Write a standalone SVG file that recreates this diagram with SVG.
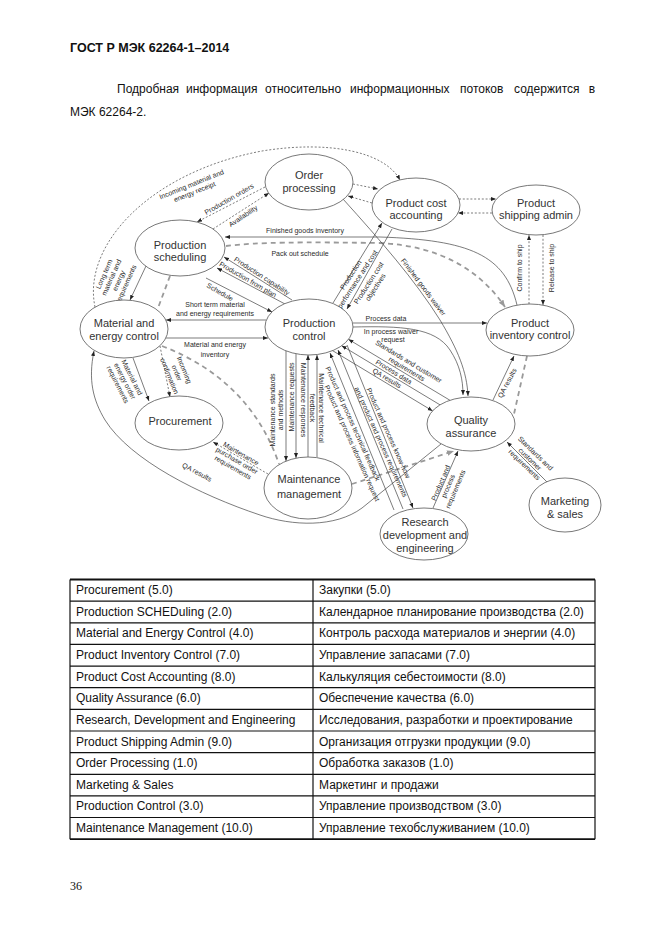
<svg xmlns="http://www.w3.org/2000/svg" width="662" height="935" viewBox="0 0 662 935">
<defs>
<style>
.hd{font-family:"Liberation Sans",Arial,sans-serif;font-size:12.5px;font-weight:bold;fill:#111}
.pt{font-family:"Liberation Sans",Arial,sans-serif;font-size:12px;fill:#111}
.tt{font-family:"Liberation Sans",Arial,sans-serif;font-size:12px;fill:#111}
.pn{font-family:"Liberation Serif","Times New Roman",serif;font-size:12px;fill:#111}
.n ellipse{fill:#fff;stroke:#555;stroke-width:0.8}
.n text{font-family:"Liberation Sans",Arial,sans-serif;font-size:11px;fill:#333;text-anchor:middle}
.lb{font-family:"Liberation Sans",Arial,sans-serif;font-size:7px;fill:#2a2a2a;text-anchor:middle}
.s{fill:none;stroke:#444;stroke-width:0.7}
.d{fill:none;stroke:#444;stroke-width:0.7;stroke-dasharray:2 1.8}
.g{fill:none;stroke:#9a9a9a;stroke-width:1.8;stroke-dasharray:5 4}
.tl{stroke:#111;stroke-width:1.2}
.tb{stroke:#111;stroke-width:1.8}
</style>
<marker id="a" viewBox="0 0 10 10" refX="10" refY="5" markerWidth="5" markerHeight="5" markerUnits="userSpaceOnUse" orient="auto"><path d="M0,1 L10,5 L0,9 z" fill="#222"/></marker>
<marker id="ag" viewBox="0 0 10 10" refX="10" refY="5" markerWidth="7" markerHeight="7" markerUnits="userSpaceOnUse" orient="auto"><path d="M0,1 L10,5 L0,9 z" fill="#999"/></marker>
</defs>
<rect width="662" height="935" fill="#fff"/>

<g id="page-text">
<text class="hd" x="70" y="51.5">ГОСТ Р МЭК 62264-1–2014</text>
<text class="pt" x="117" y="92.5">Подробная</text>
<text class="pt" x="186" y="92.5">информация</text>
<text class="pt" x="265" y="92.5">относительно</text>
<text class="pt" x="350" y="92.5">информационных</text>
<text class="pt" x="460" y="92.5">потоков</text>
<text class="pt" x="514" y="92.5">содержится</text>
<text class="pt" x="595" y="92.5" text-anchor="end">в</text>
<text class="pt" x="70" y="115.5">МЭК 62264-2.</text>
<text class="pn" x="70" y="890">36</text>
</g>

<g id="connectors">
<!-- dashed thin flows -->
<path class="d" d="M95 307 C82 245,150 172,262 151 C330 140,385 152,400 180" marker-end="url(#a)"/>
<path class="d" d="M353 184 L378 189" marker-end="url(#a)"/>
<path class="d" d="M372 203 L348 196" marker-end="url(#a)"/>
<path class="d" d="M459 199 L496 199" marker-end="url(#a)"/>
<path class="d" d="M492 213 L458 213" marker-end="url(#a)"/>
<path class="d" d="M529 304 L529 235" marker-end="url(#a)"/>
<path class="d" d="M543 235 L543 305" marker-end="url(#a)"/>
<path class="d" d="M265 187 L197 222" marker-end="url(#a)"/>
<path class="d" d="M213 229 L269 193" marker-end="url(#a)"/>
<path class="d" d="M160 346 L170 397" marker-end="url(#a)"/>
<path class="d" d="M268 474 L213 442" marker-end="url(#a)"/>

<!-- grey thick dashed flows -->
<path class="g" d="M226 246 C260 242,300 242,380 243 C440 246,480 270,505 307" marker-end="url(#ag)"/>
<path class="g" d="M170 276 L158 308"/>
<path class="g" d="M162 346 Q250 380 279 464"/>
<path class="g" d="M527 356 L514 414"/>
<path class="g" d="M352 484 C380 475,420 462,454 451" marker-end="url(#ag)"/>

<!-- solid flows -->
<path class="s" d="M517 305 C505 255,470 240,380 237 L225 237" marker-end="url(#a)"/>
<path class="s" d="M292 300 L224 257" marker-end="url(#a)"/>
<path class="s" d="M285 304 L217 268" marker-end="url(#a)"/>
<path class="s" d="M206 278 L272 312" marker-end="url(#a)"/>
<path class="s" d="M266 320 L166 320" marker-end="url(#a)"/>
<path class="s" d="M166 338 L268 338" marker-end="url(#a)"/>
<path class="s" d="M146 266 L130 300" marker-end="url(#a)"/>
<path class="s" d="M133 358 L149 401" marker-end="url(#a)"/>
<path class="s" d="M441 444 L362 508 C335 528,292 526,260 515 C200 495,130 460,105 420 C93 400,88 380,94 351" marker-end="url(#a)"/>
<path class="s" d="M286 351 L286 461" marker-end="url(#a)"/>
<path class="s" d="M296 354 L296 458" marker-end="url(#a)"/>
<path class="s" d="M308 457 L308 355" marker-end="url(#a)"/>
<path class="s" d="M317 457 L317 355" marker-end="url(#a)"/>
<path class="s" d="M394 510 L330 353" marker-end="url(#a)"/>
<path class="s" d="M403 509 L338 350" marker-end="url(#a)"/>
<path class="s" d="M347 345 L413 508" marker-end="url(#a)"/>
<path class="s" d="M353 323 L487 323" marker-end="url(#a)"/>
<path class="s" d="M353 327 C400 326,435 327,450 350 C460 365,463 380,463 395" marker-end="url(#a)"/>
<path class="s" d="M343 199 C380 240,415 280,440 320 C458 350,467 372,468 396" marker-end="url(#a)"/>
<path class="s" d="M450 400.3 L348.4 339.3" marker-end="url(#a)"/>
<path class="s" d="M440.1 404.9 L341.7 345.7" marker-end="url(#a)"/>
<path class="s" d="M332.5 350.6 L432.6 410.9" marker-end="url(#a)"/>
<path class="s" d="M493 400 L514 356" marker-end="url(#a)"/>
<path class="s" d="M547 482 L507 442" marker-end="url(#a)"/>
<path class="s" d="M433 508 L458 451" marker-end="url(#a)"/>
<path class="s" d="M333 303 L382 223" marker-end="url(#a)"/>
<path class="s" d="M392 229 L347 309" marker-end="url(#a)"/>

<!-- connector labels -->
<text class="lb" transform="translate(193,188) rotate(-22)"><tspan x="0" y="-1.5">Incoming material and</tspan><tspan x="0" y="6.5">energy receipt</tspan></text>
<text class="lb" transform="translate(229,199) rotate(-30)" y="2.5">Production orders</text>
<text class="lb" transform="translate(243,216) rotate(-34)" y="2.5">Availability</text>
<text class="lb" x="305" y="233">Finished goods inventory</text>
<text class="lb" x="300" y="255.5">Pack out schedule</text>
<text class="lb" transform="translate(115,279) rotate(-66)"><tspan x="0" y="-9.5">Long term</tspan><tspan x="0" y="-1.5">material and</tspan><tspan x="0" y="6.5">energy</tspan><tspan x="0" y="14.5">requirements</tspan></text>
<text class="lb" transform="translate(262,276) rotate(33)" y="2.5">Production capability</text>
<text class="lb" transform="translate(248,279.5) rotate(30)" y="2.5">Production from plan</text>
<text class="lb" transform="translate(220,292) rotate(30)" y="2.5">Schedule</text>
<text class="lb" x="215" y="306.5">Short term material</text>
<text class="lb" x="215" y="316">and energy requirements</text>
<text class="lb" x="215" y="346.5">Material and energy</text>
<text class="lb" x="215" y="356.5">inventory</text>
<text class="lb" transform="translate(125,381) rotate(63)"><tspan x="0" y="-5.5">Material and</tspan><tspan x="0" y="2.5">energy order</tspan><tspan x="0" y="10.5">requirements</tspan></text>
<text class="lb" transform="translate(177,373) rotate(68)"><tspan x="0" y="-5.5">Incoming</tspan><tspan x="0" y="2.5">order</tspan><tspan x="0" y="10.5">confirmation</tspan></text>
<text class="lb" transform="translate(237,460.5) rotate(30)"><tspan x="0" y="-5.5">Maintenance</tspan><tspan x="0" y="2.5">purchase order</tspan><tspan x="0" y="10.5">requirements</tspan></text>
<text class="lb" transform="translate(197,472) rotate(28)" y="2.5">QA results</text>
<text class="lb" transform="translate(276,410) rotate(-90)"><tspan x="0" y="-1.5">Maintenance standards</tspan><tspan x="0" y="6.5">and methods</tspan></text>
<text class="lb" transform="translate(291,397) rotate(-90)" y="2.5">Maintenance requests</text>
<text class="lb" transform="translate(303,400) rotate(90)" y="2.5">Maintenance responses</text>
<text class="lb" transform="translate(317,408) rotate(90)"><tspan x="0" y="-2">Maintenance technical</tspan><tspan x="0" y="7">feedback</tspan></text>
<text class="lb" transform="translate(352.9,423.8) rotate(66)" y="2.5">Product and process technical feedback</text>
<text class="lb" transform="translate(352.1,443.1) rotate(66)" y="2.5">Product and process information request</text>
<text class="lb" transform="translate(388.5,432.9) rotate(66)" y="2.5">Product and process know-how</text>
<text class="lb" transform="translate(381,442) rotate(66)" y="2.5">and product and process requirements</text>
<text class="lb" x="386" y="320.5">Process data</text>
<text class="lb" x="391" y="333.5">In process waiver</text>
<text class="lb" x="393" y="341.5">request</text>
<text class="lb" transform="translate(408.6,361.4) rotate(31)" y="2.5">Standards and customer</text>
<text class="lb" transform="translate(406.7,369) rotate(31)" y="2.5">requirements</text>
<text class="lb" transform="translate(393.9,371.8) rotate(31)" y="2.5">Process data</text>
<text class="lb" transform="translate(387,378.2) rotate(31)" y="2.5">QA results</text>
<text class="lb" transform="translate(507,383) rotate(-62)" y="2.5">QA results</text>
<text class="lb" transform="translate(530,459) rotate(44)"><tspan x="0" y="-5.5">Standards and</tspan><tspan x="0" y="2.5">customer</tspan><tspan x="0" y="10.5">requirements</tspan></text>
<text class="lb" transform="translate(448,486) rotate(-67)"><tspan x="0" y="-5.5">Product and</tspan><tspan x="0" y="2.5">process</tspan><tspan x="0" y="10.5">requirements</tspan></text>
<text class="lb" transform="translate(354,277) rotate(-57)"><tspan x="0" y="-1.5">Production</tspan><tspan x="0" y="6.5">performance and cost</tspan></text>
<text class="lb" transform="translate(372,285) rotate(-57)"><tspan x="0" y="-1.5">Production cost</tspan><tspan x="0" y="6.5">objectives</tspan></text>
<text class="lb" transform="translate(423.5,287) rotate(53)" y="2.5">Finished goods waiver</text>
<text class="lb" transform="translate(519,268) rotate(-90)" y="2.5">Confirm to ship</text>
<text class="lb" transform="translate(551,268) rotate(-90)" y="2.5">Release to ship</text>
</g>

<g id="n-order-processing" class="n"><ellipse cx="309" cy="182" rx="44" ry="28"/><text x="309" y="179">Order</text><text x="309" y="192">processing</text></g>
<g id="n-product-cost-accounting" class="n"><ellipse cx="416" cy="205" rx="44" ry="27"/><text x="416" y="206.5">Product cost</text><text x="416" y="219">accounting</text></g>
<g id="n-product-shipping-admin" class="n"><ellipse cx="536" cy="210" rx="44" ry="25"/><text x="536" y="207">Product</text><text x="536" y="219">shipping admin</text></g>
<g id="n-production-scheduling" class="n"><ellipse cx="180" cy="248" rx="45" ry="28"/><text x="180" y="249">Production</text><text x="180" y="261">scheduling</text></g>
<g id="n-material-energy-control" class="n"><ellipse cx="124" cy="329" rx="44" ry="29"/><text x="124" y="327">Material and</text><text x="124" y="340">energy control</text></g>
<g id="n-production-control" class="n"><ellipse cx="309" cy="327" rx="44" ry="28"/><text x="309" y="327">Production</text><text x="309" y="340">control</text></g>
<g id="n-product-inventory-control" class="n"><ellipse cx="530" cy="330" rx="44" ry="26"/><text x="530" y="327">Product</text><text x="530" y="339">inventory control</text></g>
<g id="n-procurement" class="n"><ellipse cx="179" cy="423" rx="44" ry="27"/><text x="180" y="425">Procurement</text></g>
<g id="n-maintenance-management" class="n"><ellipse cx="308" cy="488" rx="44" ry="31"/><text x="309" y="483">Maintenance</text><text x="309" y="498">management</text></g>
<g id="n-quality-assurance" class="n"><ellipse cx="471" cy="424" rx="44" ry="27"/><text x="471" y="424">Quality</text><text x="471" y="437">assurance</text></g>
<g id="n-research-development-engineering" class="n"><ellipse cx="424" cy="534" rx="44" ry="26"/><text x="425" y="526">Research</text><text x="425" y="539">development and</text><text x="425" y="552">engineering</text></g>
<g id="n-marketing-sales" class="n"><ellipse cx="565" cy="505" rx="36" ry="27"/><text x="565" y="505">Marketing</text><text x="565" y="518">&amp; sales</text></g>

<g id="table">
<line class="tb" x1="70" y1="579.5" x2="595" y2="579.5"/>
<line class="tl" x1="70" y1="601.1" x2="595" y2="601.1"/>
<line class="tl" x1="70" y1="622.8" x2="595" y2="622.8"/>
<line class="tl" x1="70" y1="644.4" x2="595" y2="644.4"/>
<line class="tl" x1="70" y1="666.1" x2="595" y2="666.1"/>
<line class="tl" x1="70" y1="687.7" x2="595" y2="687.7"/>
<line class="tl" x1="70" y1="709.3" x2="595" y2="709.3"/>
<line class="tl" x1="70" y1="731" x2="595" y2="731"/>
<line class="tl" x1="70" y1="752.6" x2="595" y2="752.6"/>
<line class="tl" x1="70" y1="774.3" x2="595" y2="774.3"/>
<line class="tl" x1="70" y1="795.9" x2="595" y2="795.9"/>
<line class="tl" x1="70" y1="817.5" x2="595" y2="817.5"/>
<line class="tb" x1="70" y1="839.2" x2="595" y2="839.2"/>
<line class="tl" x1="70" y1="579.5" x2="70" y2="839.2"/>
<line class="tl" x1="313" y1="579.5" x2="313" y2="839.2"/>
<line class="tl" x1="595" y1="579.5" x2="595" y2="839.2"/>
<text class="tt" x="76" y="594">Procurement (5.0)</text>
<text class="tt" x="319" y="594">Закупки (5.0)</text>
<text class="tt" x="76" y="615.6">Production SCHEDuling (2.0)</text>
<text class="tt" x="319" y="615.6">Календарное планирование производства (2.0)</text>
<text class="tt" x="76" y="637.3">Material and Energy Control (4.0)</text>
<text class="tt" x="319" y="637.3">Контроль расхода материалов и энергии (4.0)</text>
<text class="tt" x="76" y="658.9">Product Inventory Control (7.0)</text>
<text class="tt" x="319" y="658.9">Управление запасами (7.0)</text>
<text class="tt" x="76" y="680.6">Product Cost Accounting (8.0)</text>
<text class="tt" x="319" y="680.6">Калькуляция себестоимости (8.0)</text>
<text class="tt" x="76" y="702.2">Quality Assurance (6.0)</text>
<text class="tt" x="319" y="702.2">Обеспечение качества (6.0)</text>
<text class="tt" x="76" y="723.8">Research, Development and Engineering</text>
<text class="tt" x="319" y="723.8">Исследования, разработки и проектирование</text>
<text class="tt" x="76" y="745.5">Product Shipping Admin (9.0)</text>
<text class="tt" x="319" y="745.5">Организация отгрузки продукции (9.0)</text>
<text class="tt" x="76" y="767.1">Order Processing (1.0)</text>
<text class="tt" x="319" y="767.1">Обработка заказов (1.0)</text>
<text class="tt" x="76" y="788.8">Marketing &amp; Sales</text>
<text class="tt" x="319" y="788.8">Маркетинг и продажи</text>
<text class="tt" x="76" y="810.4">Production Control (3.0)</text>
<text class="tt" x="319" y="810.4">Управление производством (3.0)</text>
<text class="tt" x="76" y="832">Maintenance Management (10.0)</text>
<text class="tt" x="319" y="832">Управление техобслуживанием (10.0)</text>
</g>
</svg>
